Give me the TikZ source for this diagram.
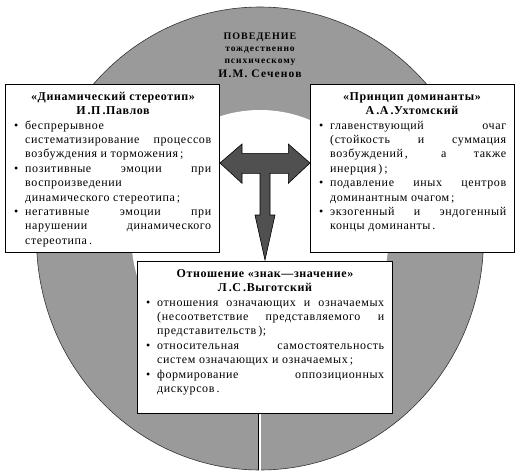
\documentclass[tikz,border=0pt]{standalone}
\usepackage{fontspec}
\setmainfont{Liberation Serif}[LetterSpace=5]
\newfontfamily\topfont{Liberation Serif}[LetterSpace=10]
\definecolor{ringgray}{RGB}{154,154,154}
\definecolor{arrowgray}{RGB}{80,80,80}
\newlength\myBw
\newlength\myTw
\newcommand\myBL[2]{\noindent\makebox[\myBw][l]{\textbullet}\makebox[\myTw][#1]{#2}\par}
\newcommand\myCL[2]{\noindent\hspace*{\myBw}\makebox[\myTw][#1]{#2}\par}
\tikzset{
  infobox/.style={draw=black, line width=1pt, fill=white, inner sep=0pt, outer sep=0pt},
  bodytext/.style={anchor=base west, inner sep=0pt, font=\fontsize{12}{14.4}\selectfont},
  titletext/.style={anchor=base, inner sep=0pt, font=\fontsize{12}{14.4}\selectfont\bfseries},
  toptext/.style={anchor=base, inner sep=0pt},
  arrowshape/.style={fill=arrowgray, draw=black, line width=0.6pt, line join=miter}
}
\begin{document}
\begin{tikzpicture}[x=1pt,y=-1pt]
\useasboundingbox (0,0) rectangle (520,474);
% ring
\filldraw[fill=ringgray, draw=black!80, line width=0.6pt] (260,238.5) ellipse [x radius=223.5pt, y radius=231.5pt];
\fill[white] (260,238.5) circle [radius=128.5pt];
\draw[white, line width=2.6pt] (260,413) -- (260,474);
\draw[black, line width=0.7pt] (258.2,413) -- (258.2,469.5);
% boxes
\node[infobox, anchor=north west, minimum width=214pt, minimum height=168pt] (pavbox) at (5,84) {};
\node[infobox, anchor=north west, minimum width=204pt, minimum height=168pt] (uxtbox) at (310,84) {};
\node[infobox, anchor=north west, minimum width=255pt, minimum height=152pt] (vygbox) at (137,261) {};
% arrow
\filldraw[arrowshape] (220,163) -- (242,144) -- (242,153.3) -- (288.3,153.3) -- (288.3,144) -- (310,163)
  -- (288.3,183.3) -- (288.3,173.3) -- (270,173.3) -- (270,215) -- (275,215) -- (265,260)
  -- (255,215) -- (260,215) -- (260,173.3) -- (242,173.3) -- (242,183.3) -- cycle;
% top text
\node[toptext, font=\topfont\bfseries\fontsize{10}{12}\selectfont] (beh1) at (260,39) {ПОВЕДЕНИЕ};
\node[toptext, font=\topfont\bfseries\fontsize{9.5}{12}\selectfont] (beh2) at (260,51) {тождественно};
\node[toptext, font=\topfont\bfseries\fontsize{9.5}{12}\selectfont] (beh3) at (260,63) {психическому};
\node[toptext, font=\topfont\bfseries\fontsize{11.5}{12}\selectfont] (beh4) at (260,77) {И.М. Сеченов};
% Pavlov
\node[titletext] (pavt1) at (113,100) {«Динамический стереотип»};
\node[titletext] (pavt2) at (113,114) {И\,.П\,.Павлов};
\node[bodytext] (pavtxt) at (14,129) {\parbox[t]{197pt}{\fontsize{12}{14.4}\selectfont\setlength\myBw{11pt}\setlength\myTw{186pt}%
\myBL{l}{беспрерывное}
\myCL{s}{систематизирование процессов}
\myCL{l}{возбуждения и торможения\,;}
\myBL{s}{позитивные эмоции при}
\myCL{l}{воспроизведении}
\myCL{l}{динамического стереотипа\,;}
\myBL{s}{негативные эмоции при}
\myCL{s}{нарушении динамического}
\myCL{l}{стереотипа\,.}}};
% Ukhtomsky
\node[titletext] (uxtt1) at (412,100) {«Принцип доминанты»};
\node[titletext] (uxtt2) at (412,114) {А\,.А\,.Ухтомский};
\node[bodytext] (uxttxt) at (319,129) {\parbox[t]{187pt}{\fontsize{12}{14.4}\selectfont\setlength\myBw{11pt}\setlength\myTw{176pt}%
\myBL{s}{главенствующий очаг}
\myCL{s}{(стойкость и суммация}
\myCL{s}{возбуждений\,, а также}
\myCL{l}{инерция\,)\,;}
\myBL{s}{подавление иных центров}
\myCL{l}{доминантным очагом\,;}
\myBL{s}{экзогенный и эндогенный}
\myCL{l}{концы доминанты\,.}}};
% Vygotsky
\node[titletext] (vygt1) at (265,277) {Отношение «знак—значение»};
\node[titletext] (vygt2) at (265,291) {Л\,.С\,.Выготский};
\node[bodytext] (vygtxt) at (146,306) {\parbox[t]{238pt}{\fontsize{12}{14.4}\selectfont\setlength\myBw{11pt}\setlength\myTw{227pt}%
\myBL{s}{отношения означающих и означаемых}
\myCL{s}{(несоответствие представляемого и}
\myCL{l}{представительств\,);}
\myBL{s}{относительная самостоятельность}
\myCL{l}{систем означающих и означаемых\,;}
\myBL{s}{формирование оппозиционных}
\myCL{l}{дискурсов\,.}}};
\end{tikzpicture}
\end{document}
